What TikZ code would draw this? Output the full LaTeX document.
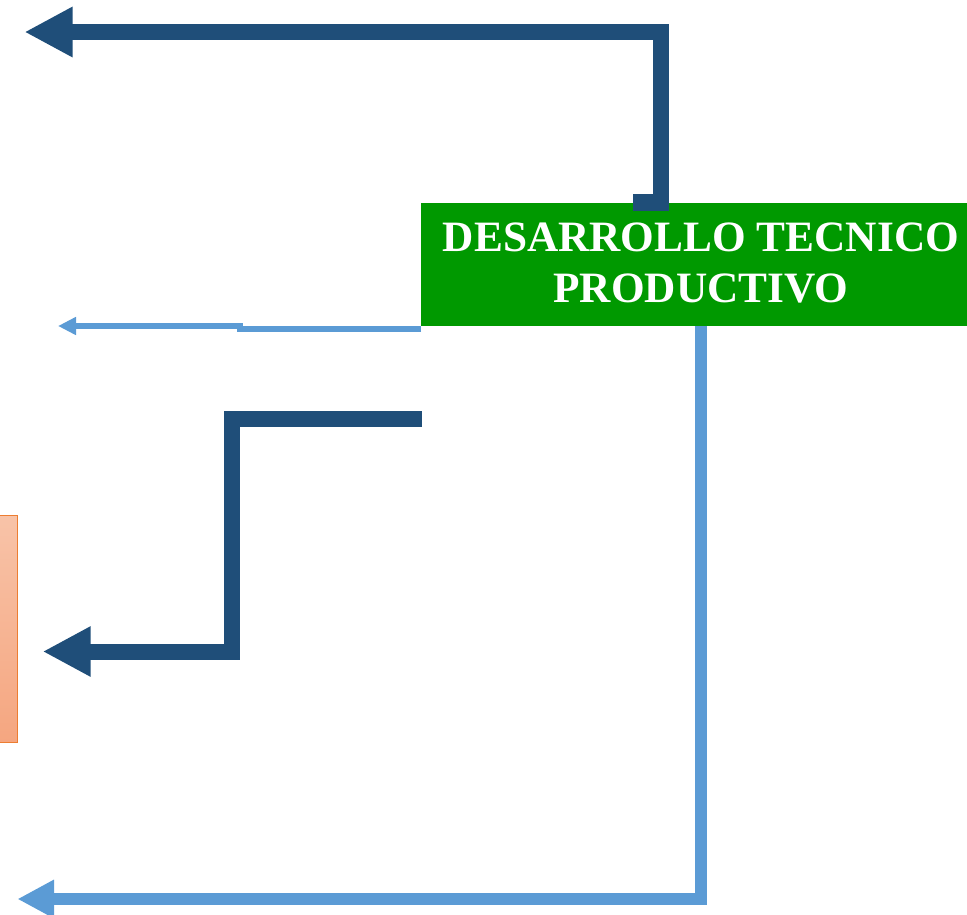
\documentclass[tikz,border=0pt]{standalone}
\usepackage{fontspec}
\usepackage{xcolor}
\usepackage{tikz}
\usetikzlibrary{arrows.meta,positioning}
\newfontfamily\titlefont{Liberation Serif}
\definecolor{darkblue}{RGB}{31,78,121}
\definecolor{lightblue}{RGB}{91,155,213}
\definecolor{boxgreen}{RGB}{0,153,0}
\definecolor{orangeline}{RGB}{237,125,49}
\definecolor{orangetop}{RGB}{248,195,168}
\definecolor{orangebot}{RGB}{245,166,128}

\begin{document}
\begin{tikzpicture}[x=1pt,y=-1pt,
		darkarrow/.style={-{Triangle[length=48pt,width=47pt]},draw=darkblue,line width=16pt},
		lightarrow/.style={-{Triangle[length=36.6pt,width=36pt]},draw=lightblue,line width=12pt},
		thinarrow/.style={-{Triangle[length=18pt,width=17pt]},draw=lightblue,line width=6pt}]

		\tikzstyle{titlebox}=[rectangle,fill=boxgreen,inner sep=0pt,minimum width=546pt,minimum height=123pt]
		\tikzstyle{titletext}=[text=white,align=center,inner sep=0pt,font=\fontsize{43.3}{51}\titlefont\bfseries]
		\tikzstyle{sidebox}=[rectangle,draw=orangeline,line width=1pt,top color=orangetop,bottom color=orangebot,
			minimum width=22pt,minimum height=226.6pt,inner sep=0pt]
		\tikzstyle{tabbox}=[rectangle,fill=darkblue,minimum width=36.5pt,minimum height=16.7pt,inner sep=0pt]

		\useasboundingbox (0,0) rectangle (967,914);

		\node[titlebox]  (dtp)     at (694,264.5)   {};
		\node[titletext] (dtptext) at ([xshift=7pt,yshift=2pt]dtp.center) {DESARROLLO TECNICO\\PRODUCTIVO};
		\node[tabbox]    (tab)     at (650.75,202.35) {};
		\node[sidebox]   (side)    at (6.7,629)      {};

		\coordinate (toptail)  at (661,210.7);
		\coordinate (toptip)   at (24.5,32);
		\coordinate (thintail) at (421,329);
		\coordinate (thinstep) at (239.5,326);
		\coordinate (thintip)  at (58,326);
		\coordinate (zstart)   at (421.7,419);
		\coordinate (zbend)    at (232,535);
		\coordinate (ztip)     at (42.7,651.5);
		\coordinate (bottip)   at (17.4,899);

		\draw[darkarrow]  (toptail) |- (toptip);
		\draw[thinarrow]  (thintail) -| (thinstep) -- (thintip);
		\draw[darkarrow]  (zstart) -| (zbend) |- (ztip);
		\draw[lightarrow] ([xshift=6.5pt]dtp.south) |- (bottip);

	\end{tikzpicture}
\end{document}
